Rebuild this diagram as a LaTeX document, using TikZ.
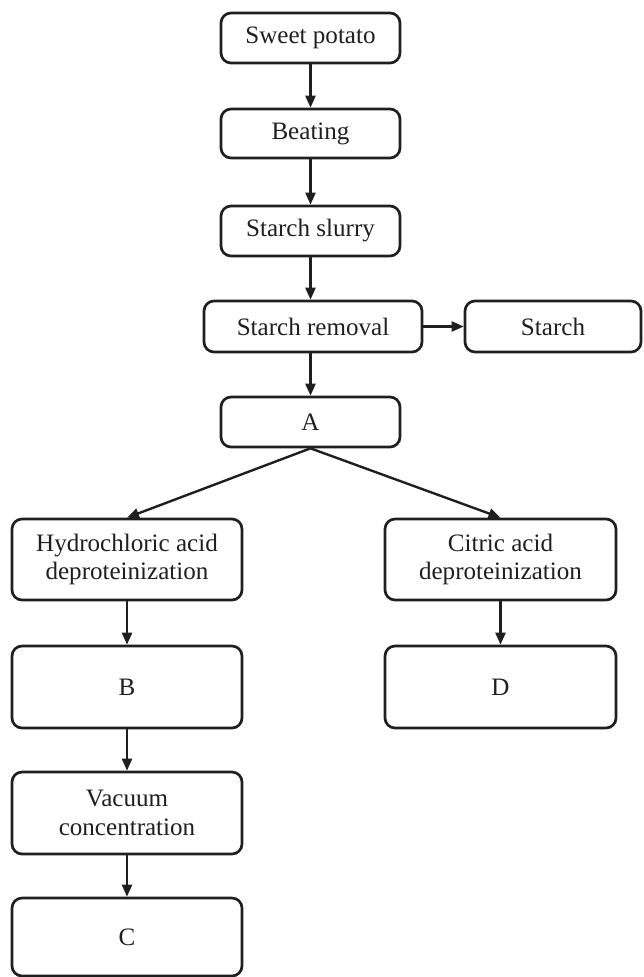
\documentclass[tikz,border=0pt]{standalone}
\usepackage{fontspec}
\setmainfont{Liberation Serif}
\usetikzlibrary{arrows.meta}
\begin{document}
\begin{tikzpicture}[x=0.75pt,y=-0.75pt,
  box/.style={draw=black!88, line width=2pt, rounded corners=7.5pt, inner sep=0pt, align=center,
    font=\fontsize{18.8}{21.5}\selectfont, text=black!88},
  arr/.style={draw=black!88, line width=1.8pt, -{Triangle[length=9pt,width=7.5pt]}}]
\useasboundingbox (0,0) rectangle (643,977);
\node[box, minimum width=179*0.75pt, minimum height=50*0.75pt] (sp) at (310.5,38) {Sweet potato};
\node[box, minimum width=179*0.75pt, minimum height=49*0.75pt] (beat) at (310.5,133.5) {Beating};
\node[box, minimum width=179*0.75pt, minimum height=50*0.75pt] (slurry) at (310.5,231) {Starch slurry};
\node[box, minimum width=218*0.75pt, minimum height=51*0.75pt] (removal) at (313,326.5) {Starch removal};
\node[box, minimum width=176*0.75pt, minimum height=51*0.75pt] (starch) at (553,326.5) {Starch};
\node[box, minimum width=179*0.75pt, minimum height=50*0.75pt] (A) at (310.5,422) {A};
\node[box, minimum width=230*0.75pt, minimum height=81*0.75pt] (hydro) at (127,559.5) {Hydrochloric acid\\deproteinization};
\node[box, minimum width=231*0.75pt, minimum height=81*0.75pt] (citric) at (500.5,559.5) {Citric acid\\deproteinization};
\node[box, minimum width=230*0.75pt, minimum height=82*0.75pt] (B) at (127,687) {B};
\node[box, minimum width=231*0.75pt, minimum height=82*0.75pt] (D) at (500.5,687) {D};
\node[box, minimum width=230*0.75pt, minimum height=82*0.75pt] (vac) at (127,813) {Vacuum\\concentration};
\node[box, minimum width=230*0.75pt, minimum height=78*0.75pt] (C) at (127,937) {C};
\draw[arr] (sp) -- (beat);
\draw[arr] (beat) -- (slurry);
\draw[arr] (slurry.south) -- (slurry.south |- removal.north);
\draw[arr] (removal.east) -- (starch.west);
\draw[arr] (removal.south -| A.north) -- (A.north);
\draw[arr] (A.south) -- (hydro.north);
\draw[arr] (A.south) -- (citric.north);
\draw[arr] (hydro) -- (B);
\draw[arr] (citric) -- (D);
\draw[arr] (B) -- (vac);
\draw[arr] (vac) -- (C);
\end{tikzpicture}
\end{document}
